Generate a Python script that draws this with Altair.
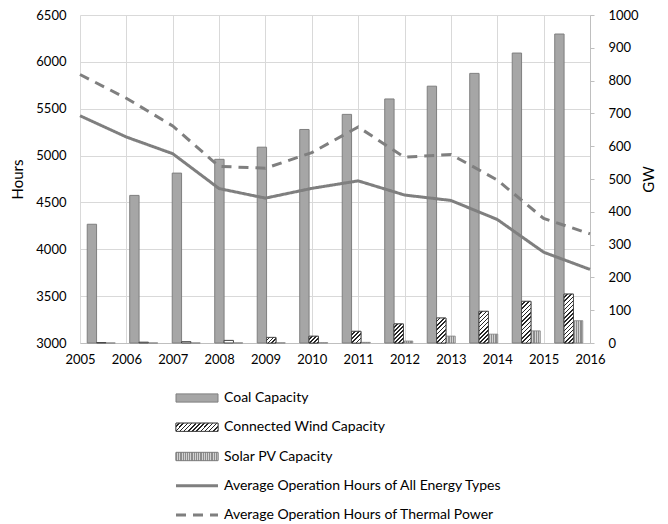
import math
import altair as alt
import pandas as pd

# ---------------- data ----------------
years = [2005, 2006, 2007, 2008, 2009, 2010, 2011, 2012, 2013, 2014, 2015, 2016]
coal_gw = [362, 450, 518, 560, 597, 651, 697, 744, 783, 822, 884, 942]
wind_gw = [1.2, 2.5, 4.0, 8.0, 17.0, 20.5, 35.5, 58.0, 76.0, 96.5, 127.0, 149.0]
solar_gw = [0.1, 0.1, 0.1, 0.3, 0.5, 0.8, 2.0, 6.0, 21.0, 27.0, 37.0, 68.0]
hours_all = [5425, 5198, 5020, 4648, 4546, 4650, 4730, 4579, 4521, 4318, 3969, 3785]
hours_thermal = [5865, 5612, 5316, 4885, 4865, 5031, 5305, 4982, 5012, 4739, 4329, 4165]

bar_series = ["Coal Capacity", "Connected Wind Capacity", "Solar PV Capacity"]
line_series = ["Average Operation Hours of All Energy Types",
               "Average Operation Hours of Thermal Power"]
hour_ticks = [3000, 3500, 4000, 4500, 5000, 5500, 6000, 6500]
gw_ticks = [0, 100, 200, 300, 400, 500, 600, 700, 800, 900, 1000]

# ---------------- styling ----------------
PLOT_W, PLOT_H = 510, 328
GW_MAX = 1000
FONT = "Lato"
GRAY = "#7f7f7f"
GRID = "#d9d9d9"
COAL_FILL = "#a6a6a6"
INNER, OUTER = 0.34, 0.17
BAR_W = PLOT_W / len(years) * (1 - INNER) / 3


def hatch(w, h, period=3.0, dark=0.38, ink="#262626"):
    """Diagonal '////' hatch as a linear gradient sized for a w x h box."""
    s = (w + h) / (w * w + h * h)
    a, b = w * s, h * s
    n = max(1, round((w + h) / math.sqrt(2) / period))
    stops = []
    for k in range(n):
        o0, o1, o2 = k / n, (k + 1 - dark) / n, (k + 1) / n
        stops += [alt.GradientStop(color="#ffffff", offset=o0),
                  alt.GradientStop(color="#ffffff", offset=o1),
                  alt.GradientStop(color=ink, offset=o1),
                  alt.GradientStop(color=ink, offset=min(o2, 1.0))]
    return alt.LinearGradient(gradient="linear", stops=stops, x1=0, y1=0, x2=a, y2=b)


def dots(w, period=2.2, base="#8c8c8c", light="#d2d2d2"):
    """Fine vertical texture approximating the dotted fill."""
    n = max(1, round(w / period))
    stops = []
    for k in range(n):
        o0, o1, o2 = k / n, (k + 0.55) / n, (k + 1) / n
        stops += [alt.GradientStop(color=base, offset=o0),
                  alt.GradientStop(color=base, offset=o1),
                  alt.GradientStop(color=light, offset=o1),
                  alt.GradientStop(color=light, offset=min(o2, 1.0))]
    return alt.LinearGradient(gradient="linear", stops=stops, x1=0, y1=0, x2=1, y2=0)


# ---------------- tables ----------------
bars = pd.DataFrame({
    "year": years * 2,
    "series": [bar_series[0]] * 12 + [bar_series[1]] * 12,
    "gw": coal_gw + wind_gw,
})
solar = pd.DataFrame({"year": years, "series": [bar_series[2]] * 12, "gw": solar_gw})
lines = pd.DataFrame({
    "year": years * 2,
    "series": [line_series[0]] * 12 + [line_series[1]] * 12,
    "hours": hours_all + hours_thermal,
})
legend = pd.DataFrame({
    "series": bar_series + line_series,
    "idx": [0, 1, 2, 3, 4],
})

fill_scale = alt.Scale(domain=bar_series, range=[COAL_FILL, "#ffffff", "#a0a0a0"])
stroke_scale = alt.Scale(domain=bar_series, range=[GRAY, "#404040", GRAY])
dash_scale = alt.Scale(domain=line_series, range=[[1, 0], [10, 7]])

x_band = alt.X("year:O", scale=alt.Scale(domain=years, paddingInner=INNER, paddingOuter=OUTER), axis=None)
x_off = alt.XOffset("series:N", scale=alt.Scale(domain=bar_series, paddingInner=0, paddingOuter=0))
gw_scale = alt.Scale(domain=[0, GW_MAX], nice=False, zero=True)

# ---------------- bars ----------------
bar_layer = alt.Chart(bars).mark_bar(strokeWidth=1).encode(
    x=x_band,
    xOffset=x_off,
    y=alt.Y("gw:Q", scale=gw_scale,
            axis=alt.Axis(orient="right", title="GW", values=gw_ticks, format="d", grid=False,
                          tickSize=4, tickColor="#bfbfbf", domainColor="#bfbfbf",
                          labelPadding=14, labelFont=FONT, labelFontSize=13,
                          labelColor="#000000", titleFont=FONT, titleFontSize=15,
                          titleFontWeight="normal", titleColor="#000000",
                          titleAngle=270, titlePadding=18)),
    fill=alt.Fill("series:N", scale=fill_scale, legend=None),
    stroke=alt.Stroke("series:N", scale=stroke_scale, legend=None),
)

solar_layer = alt.Chart(solar).mark_bar(fill=dots(BAR_W), stroke=GRAY, strokeWidth=0.8).encode(
    x=x_band, xOffset=x_off,
    y=alt.Y("gw:Q", scale=gw_scale, axis=None),
)

wind_layers = []
for yr, v in zip(years, wind_gw):
    h = v * PLOT_H / GW_MAX
    if h < 3:
        continue
    df = pd.DataFrame({"year": [yr], "series": [bar_series[1]], "gw": [v]})
    wind_layers.append(
        alt.Chart(df).mark_bar(fill=hatch(BAR_W, h), stroke="#404040", strokeWidth=0.8).encode(
            x=x_band, xOffset=x_off,
            y=alt.Y("gw:Q", scale=gw_scale, axis=None),
        )
    )

# ---------------- lines ----------------
line_layer = alt.Chart(lines).mark_line(strokeWidth=3, color=GRAY).encode(
    x=alt.X("year:O", scale=alt.Scale(domain=years, type="point", padding=0),
            axis=alt.Axis(orient="bottom", title=None, labelAngle=0, grid=True, gridColor=GRID,
                          ticks=False, tickSize=0, domainColor="#bfbfbf", labelPadding=10,
                          labelFont=FONT, labelFontSize=13, labelColor="#000000")),
    y=alt.Y("hours:Q", scale=alt.Scale(domain=[3000, 6500], nice=False, zero=False),
            axis=alt.Axis(orient="left", title="Hours", values=hour_ticks, format="d", grid=True,
                          gridColor=GRID, domain=False, ticks=False, tickSize=0,
                          labelPadding=14, labelFont=FONT, labelFontSize=13,
                          labelColor="#000000", titleFont=FONT, titleFontSize=15,
                          titleFontWeight="normal", titleColor="#000000", titlePadding=10)),
    strokeDash=alt.StrokeDash("series:N", scale=dash_scale, legend=None),
)

# ---------------- legend (drawn below the plot) ----------------
leg_y = alt.Scale(domain=[0, 4], range=[383, 500])
leg_rect = alt.Chart(legend).transform_filter(
    alt.FieldOneOfPredicate(field="series", oneOf=bar_series)
).transform_calculate(lo="datum.idx - 0.14", hi="datum.idx + 0.14").mark_rect(strokeWidth=1).encode(
    x=alt.value(96), x2=alt.value(138),
    y=alt.Y("lo:Q", scale=leg_y, axis=None), y2="hi:Q",
    fill=alt.Fill("series:N", scale=fill_scale, legend=None),
    stroke=alt.Stroke("series:N", scale=stroke_scale, legend=None),
)
leg_hatch = alt.Chart(legend).transform_filter(
    alt.FieldEqualPredicate(field="series", equal=bar_series[1])
).transform_calculate(lo="datum.idx - 0.14", hi="datum.idx + 0.14").mark_rect(
    fill=hatch(42, 8), stroke="#404040", strokeWidth=0.8
).encode(
    x=alt.value(96), x2=alt.value(138),
    y=alt.Y("lo:Q", scale=leg_y, axis=None), y2="hi:Q",
)
leg_dots = alt.Chart(legend).transform_filter(
    alt.FieldEqualPredicate(field="series", equal=bar_series[2])
).transform_calculate(lo="datum.idx - 0.14", hi="datum.idx + 0.14").mark_rect(
    fill=dots(42), stroke=GRAY, strokeWidth=0.8
).encode(
    x=alt.value(96), x2=alt.value(138),
    y=alt.Y("lo:Q", scale=leg_y, axis=None), y2="hi:Q",
)
leg_line = alt.Chart(legend).transform_filter(
    alt.FieldOneOfPredicate(field="series", oneOf=line_series)
).mark_rule(strokeWidth=3, color=GRAY).encode(
    x=alt.value(96), x2=alt.value(138),
    y=alt.Y("idx:Q", scale=leg_y, axis=None),
    strokeDash=alt.StrokeDash("series:N", scale=dash_scale, legend=None),
)
leg_text = alt.Chart(legend).mark_text(align="left", baseline="middle", font=FONT,
                                       fontSize=14, color="#000000").encode(
    x=alt.value(144),
    y=alt.Y("idx:Q", scale=leg_y, axis=None),
    text="series:N",
)

chart = alt.layer(
    bar_layer, solar_layer, *wind_layers, line_layer,
    leg_rect, leg_hatch, leg_dots, leg_line, leg_text
).resolve_scale(
    x="independent", y="independent"
).properties(
    width=PLOT_W, height=PLOT_H,
    padding={"left": 2, "top": 1, "right": 0, "bottom": 0},
).configure_view(stroke=None)

chart.save("out.html", embed_options={"renderer": "svg", "actions": False})
